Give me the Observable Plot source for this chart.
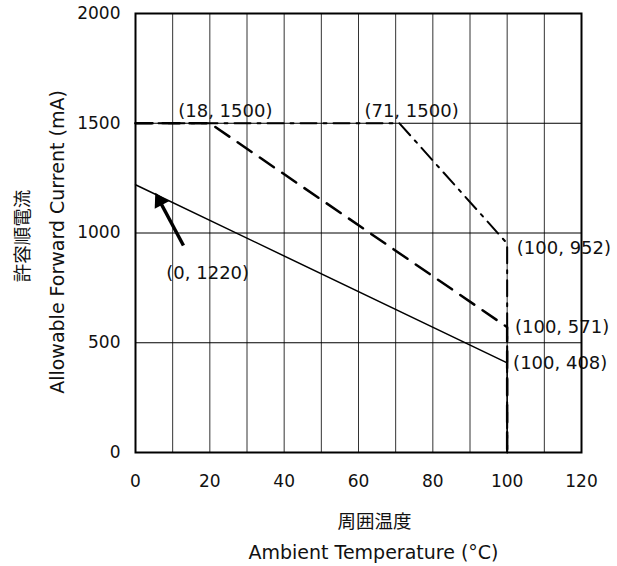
<!DOCTYPE html>
<html><head><meta charset="utf-8">
<script src="https://cdn.jsdelivr.net/npm/d3@7"></script>
<script src="https://cdn.jsdelivr.net/npm/@observablehq/plot@0.6"></script>
<style>body{margin:0;background:#fff;} svg{font-family:"DejaVu Sans",Verdana,sans-serif;}</style>
</head><body><div id="chart"></div>
<script>
// Data
const xTicks = [0, 20, 40, 60, 80, 100, 120];
const xGrid = [10, 20, 30, 40, 50, 60, 70, 80, 90, 100, 110];
const yTicks = [0, 500, 1000, 1500, 2000];
const yGrid = [500, 1000, 1500];
const solidX = [0, 100, 100];
const solidY = [1220, 408, 0];
const dashX = [0, 20, 100, 100];
const dashY = [1500, 1500, 571, 0];
const dashDotX = [0, 71, 100, 100];
const dashDotY = [1500, 1500, 952, 0];
const labelTexts = ["(18, 1500)", "(71, 1500)", "(100, 952)", "(100, 571)", "(100, 408)", "(0, 1220)"];
const labelX = [11.5, 61.6, 102.6, 102.1, 101.6, 8.3];
const labelY = [1555, 1555, 929, 569, 405, 815];
const arrowTail = [12.9, 943];
const arrowHead = [6.5, 1146];

const pts = (xs, ys) => xs.map((x, i) => ({x, y: ys[i]}));
const font = '"DejaVu Sans",Verdana,sans-serif';
const cjk = '"Noto Sans CJK JP",sans-serif';

const chart = Plot.plot({
  width: 617, height: 566,
  marginLeft: 135, marginRight: 36, marginTop: 13, marginBottom: 114,
  style: {fontFamily: font, fontSize: "17px", color: "#111", background: "#fff"},
  x: {domain: [0, 120], ticks: xTicks, tickSize: 0, tickPadding: 22, label: null},
  y: {domain: [0, 2000], ticks: yTicks, tickSize: 0, tickPadding: 15, tickFormat: "d", label: null},
  marks: [
    Plot.ruleX(xGrid, {stroke: "#333", strokeWidth: 1}),
    Plot.ruleY(yGrid, {stroke: "#000", strokeWidth: 1}),
    Plot.line(pts(solidX, solidY), {x: "x", y: "y", stroke: "#000", strokeWidth: 1.5}),
    Plot.line(pts(dashX, dashY), {x: "x", y: "y", stroke: "#000", strokeWidth: 2.5, strokeDasharray: "17,10"}),
    Plot.line(pts(dashDotX, dashDotY), {x: "x", y: "y", stroke: "#000", strokeWidth: 2, strokeDasharray: "16,7,3,7"}),
    Plot.link([{x1: arrowTail[0], y1: arrowTail[1], x2: arrowHead[0], y2: arrowHead[1]}],
      {x1: "x1", y1: "y1", x2: "x2", y2: "y2", stroke: "#000", strokeWidth: 3.5}),
    Plot.dot([{x: arrowHead[0], y: arrowHead[1]}],
      {x: "x", y: "y", symbol: "triangle", r: 6, fill: "#000", stroke: "none", rotate: -28}),
    Plot.text(labelTexts.map((t, i) => ({t, x: labelX[i], y: labelY[i]})),
      {x: "x", y: "y", text: "t", textAnchor: "start", fontSize: 18, fill: "#111"}),
    Plot.frame({stroke: "#000", strokeWidth: 2}),
    Plot.text(["周囲温度"], {frameAnchor: "bottom", dx: 16, dy: 75, fontFamily: cjk, fontSize: 18.5, fill: "#111"}),
    Plot.text(["Ambient Temperature (°C)"], {frameAnchor: "bottom", dx: 15, dy: 106, fontSize: 19, fill: "#111"}),
    Plot.text(["許容順電流"], {frameAnchor: "left", dx: -112, dy: 3, rotate: -90, textAnchor: "middle", fontFamily: cjk, fontSize: 18.5, fill: "#111"}),
    Plot.text(["Allowable Forward Current (mA)"], {frameAnchor: "left", dx: -78, dy: 9, rotate: -90, textAnchor: "middle", fontSize: 19, fill: "#111"})
  ]
});
document.getElementById("chart").appendChild(chart);
</script></body></html>
